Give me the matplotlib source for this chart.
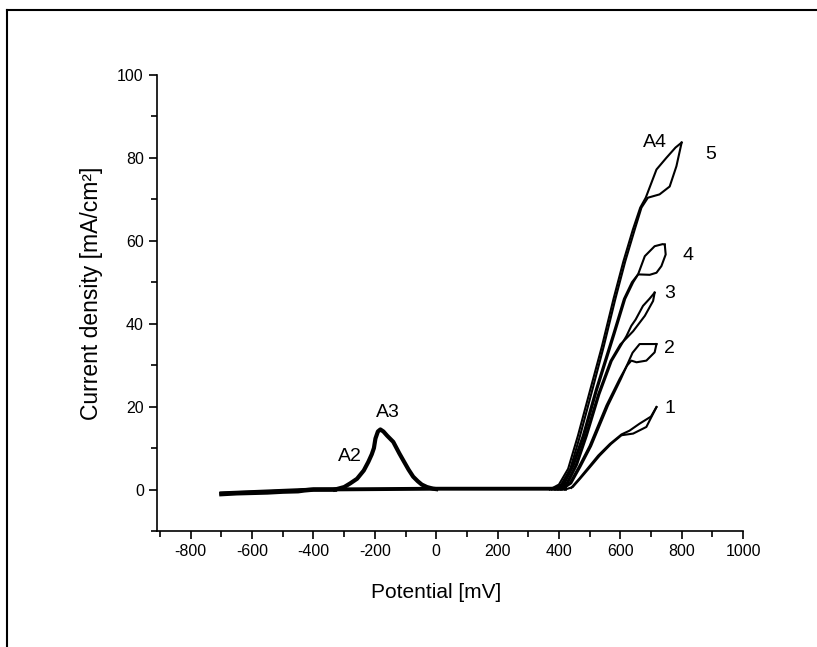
import matplotlib
matplotlib.use("Agg")
import matplotlib.pyplot as plt
from matplotlib.lines import Line2D
from matplotlib.ticker import MultipleLocator

plt.rcParams["font.family"] = ["Liberation Sans", "DejaVu Sans"]
plt.rcParams["axes.unicode_minus"] = False

# baseline + A2/A3 peak region (several overlapping cycles)
base_x = [-700, -650, -600, -550, -500, -450, -430, -400, -350, -330]
base_y = [-1.1, -0.9, -0.8, -0.7, -0.5, -0.4, -0.2, 0.0, 0.0, 0.0]
peak_x = [-330, -300, -280, -258, -236, -221, -210, -203, -198, -190, -182,
          -172, -160, -140, -120, -107, -90, -75, -60, -47, -30, -10, 0]
peak_y = [0.0, 0.6, 1.5, 2.6, 4.6, 6.7, 8.5, 10.0, 12.3, 14.0, 14.5,
          14.0, 13.0, 11.5, 8.7, 7.0, 4.8, 3.1, 2.0, 1.2, 0.6, 0.2, 0.1]
flat_x = [-700, -400, 0, 200, 350, 420]
flat_y = [-0.9, 0.0, 0.2, 0.2, 0.2, 0.2]

# anodic branches, forward and reverse scans
c1_fwd_x = [420, 445, 470, 500, 533, 570, 604, 642, 685, 718]
c1_fwd_y = [0.0, 0.6, 2.7, 5.3, 8.2, 11.0, 13.1, 13.5, 15.1, 19.9]
c1_rev_x = [718, 700, 663, 630, 604, 566, 528, 496, 466, 440]
c1_rev_y = [19.9, 17.6, 15.9, 14.2, 13.3, 11.0, 8.2, 5.3, 2.6, 0.4]

c2_fwd_x = [405, 435, 465, 500, 555, 598, 622, 636, 653, 685, 712, 718]
c2_fwd_y = [0.0, 1.5, 5.5, 10.5, 20.3, 26.7, 29.9, 31.1, 30.7, 31.1, 33.1, 35.1]
c2_rev_x = [718, 690, 663, 640, 622, 602, 560, 505, 470, 440, 410]
c2_rev_y = [35.1, 35.1, 35.1, 33.0, 30.0, 26.7, 20.3, 10.5, 5.5, 1.5, 0.0]

c3_fwd_x = [395, 425, 455, 487, 528, 568, 600, 620, 642, 680, 707, 712]
c3_fwd_y = [0.0, 1.5, 6.0, 13.0, 23.0, 31.0, 35.0, 36.5, 38.2, 41.9, 45.5, 47.5]
c3_rev_x = [712, 695, 674, 650, 636, 620, 604, 572, 532, 491, 459, 429, 400]
c3_rev_y = [47.5, 46.0, 44.3, 41.0, 39.5, 37.0, 35.0, 31.0, 23.0, 13.0, 6.0, 1.5, 0.0]

c4_fwd_x = [385, 415, 445, 478, 520, 577, 612, 638, 658, 696, 718, 734, 748, 745]
c4_fwd_y = [0.0, 1.5, 6.0, 13.0, 24.0, 37.5, 46.0, 50.0, 51.9, 51.8, 52.3, 53.9, 56.7, 59.1]
c4_rev_x = [745, 738, 712, 680, 658, 642, 616, 581, 524, 482, 449, 419, 390]
c4_rev_y = [59.1, 59.2, 58.7, 56.3, 51.9, 50.0, 46.0, 37.5, 24.0, 13.0, 6.0, 1.5, 0.0]

c5_fwd_x = [370, 400, 430, 462, 500, 540, 578, 610, 641, 665, 683, 718, 750, 780, 800]
c5_fwd_y = [0.0, 1.2, 5.0, 13.0, 23.5, 34.5, 46.0, 55.0, 62.7, 68.0, 70.4, 77.2, 80.0, 82.5, 83.7]
c5_rev_x = [800, 783, 761, 728, 690, 669, 647, 616, 584, 546, 507, 469, 437, 407, 377]
c5_rev_y = [83.7, 78.0, 73.1, 71.2, 70.4, 68.0, 62.7, 55.0, 46.0, 34.5, 23.5, 13.0, 5.0, 1.2, 0.0]

curve_labels = ["1", "2", "3", "4", "5"]
curve_label_x = [761, 761, 761, 820, 894]
curve_label_y = [19.5, 34.1, 47.4, 56.5, 80.8]
peak_labels = ["A2", "A3", "A4"]
peak_label_x = [-280, -159, 712]
peak_label_y = [7.9, 18.5, 83.7]

fig = plt.figure(figsize=(8.17, 6.47), dpi=100)
ax = fig.add_axes([157 / 817, 1 - 531 / 647, 586 / 817, 456 / 647])

ax.plot(base_x, base_y, color="black", lw=3.2)
ax.plot(flat_x, flat_y, color="black", lw=2.8)
ax.plot(peak_x, peak_y, color="black", lw=3.0)

curves = [
    (c1_fwd_x, c1_fwd_y, c1_rev_x, c1_rev_y),
    (c2_fwd_x, c2_fwd_y, c2_rev_x, c2_rev_y),
    (c3_fwd_x, c3_fwd_y, c3_rev_x, c3_rev_y),
    (c4_fwd_x, c4_fwd_y, c4_rev_x, c4_rev_y),
    (c5_fwd_x, c5_fwd_y, c5_rev_x, c5_rev_y),
]
for fx, fy, rx, ry in curves:
    ax.plot(fx, fy, color="black", lw=1.5)
    ax.plot(rx, ry, color="black", lw=1.5)

for lab, x, y in zip(curve_labels, curve_label_x, curve_label_y):
    ax.text(x, y, lab, fontsize=14, ha="center", va="center")
for lab, x, y in zip(peak_labels, peak_label_x, peak_label_y):
    ax.text(x, y, lab, fontsize=14, ha="center", va="center")

ax.set_xlim(-910, 1000)
ax.set_ylim(-10, 100)
ax.xaxis.set_minor_locator(MultipleLocator(100))
ax.yaxis.set_minor_locator(MultipleLocator(10))
ax.set_xticks(range(-800, 1001, 200))
ax.set_yticks(range(0, 101, 20))
ax.tick_params(which="major", direction="out", length=6, width=1.2, labelsize=11.5)
ax.tick_params(which="minor", direction="out", length=4, width=1.2)
for side in ["top", "right"]:
    ax.spines[side].set_visible(False)
for side in ["left", "bottom"]:
    ax.spines[side].set_linewidth(1.2)

ax.set_xlabel("Potential [mV]", fontsize=15)
ax.set_ylabel("Current density [mA/cm²]", fontsize=16.5)
ax.xaxis.set_label_coords((436 - 157) / 586, -0.115)
ax.yaxis.set_label_coords((103 - 157) / 586, (531 - 293) / 456)

# outer frame (only top and left edges visible in the original)
fig.add_artist(Line2D([7 / 817, 7 / 817], [0, 1 - 10 / 647], color="black", lw=1.5))
fig.add_artist(Line2D([7 / 817, 1], [1 - 10 / 647, 1 - 10 / 647], color="black", lw=1.5))

fig.savefig("out.png", dpi=100)
